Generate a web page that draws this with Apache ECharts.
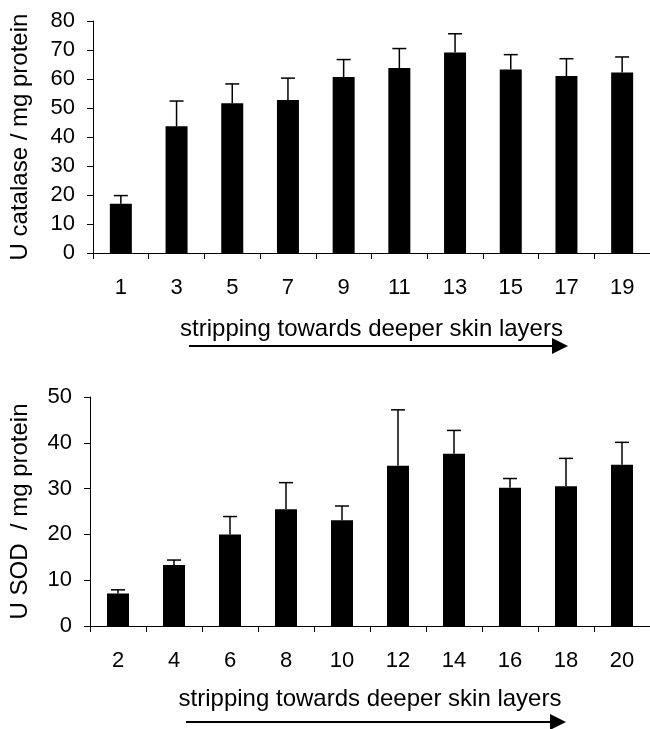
<!DOCTYPE html>
<html>
<head>
<meta charset="utf-8">
<script src="https://cdn.jsdelivr.net/npm/echarts@6/dist/echarts.min.js"></script>
<style>
html,body{margin:0;padding:0;background:#fff;}
#chart{width:650px;height:729px;}
</style>
</head>
<body>
<div id="chart"></div>
<script>
// Top panel: catalase
const catalaseCategories = ['1','3','5','7','9','11','13','15','17','19'];
const catalaseMean = [17.0, 43.7, 51.6, 52.8, 60.7, 63.8, 69.1, 63.3, 61.0, 62.2];
const catalaseSD   = [2.8, 8.7, 6.7, 7.5, 6.0, 6.7, 6.5, 5.1, 6.0, 5.4];
const catalaseTicks = [0, 10, 20, 30, 40, 50, 60, 70, 80];

// Bottom panel: SOD
const sodCategories = ['2','4','6','8','10','12','14','16','18','20'];
const sodMean = [7.1, 13.3, 20.0, 25.5, 23.1, 35.0, 37.6, 30.2, 30.5, 35.2];
const sodSD   = [0.8, 1.1, 3.9, 5.8, 3.1, 12.2, 5.1, 2.0, 6.1, 4.9];
const sodTicks = [0, 10, 20, 30, 40, 50];

const xTitle = 'stripping towards deeper skin layers';
const yTitleTop = 'U catalase / mg protein';
const yTitleBottom = 'U SOD  / mg protein';

const FONT = "'Liberation Sans', Arial, sans-serif";
const chart = echarts.init(document.getElementById('chart'), null, {renderer: 'canvas'});

function errData(means, sds) {
  return means.map((m, i) => [i, m, m + sds[i]]);
}
function errRender(params, api) {
  const x = api.value(0);
  const low = api.coord([x, api.value(1)]);
  const high = api.coord([x, api.value(2)]);
  const cap = 7;
  const style = {stroke: '#000', lineWidth: 1.5, fill: null};
  return {
    type: 'group',
    children: [
      {type: 'line', shape: {x1: low[0], y1: low[1], x2: high[0], y2: high[1]}, style: style},
      {type: 'line', shape: {x1: high[0] - cap, y1: high[1], x2: high[0] + cap, y2: high[1]}, style: style}
    ]
  };
}

function xAxisCfg(gridIndex, cats, gap) {
  return {
    type: 'category', gridIndex: gridIndex, data: cats,
    boundaryGap: true,
    axisLine: {lineStyle: {color: '#000', width: 1}},
    axisTick: {show: true, inside: false, length: 6, alignWithLabel: false, lineStyle: {color: '#000'}},
    axisLabel: {color: '#000', fontSize: 22, fontFamily: FONT, margin: 24},
    name: xTitle, nameLocation: 'middle', nameGap: gap,
    nameTextStyle: {color: '#000', fontSize: 24, fontFamily: FONT}
  };
}
function yAxisCfg(gridIndex, ticks, name, gap) {
  const mx = ticks[ticks.length - 1];
  return {
    type: 'value', gridIndex: gridIndex, min: ticks[0], max: mx, interval: ticks[1] - ticks[0],
    axisLine: {show: true, lineStyle: {color: '#000', width: 1}},
    axisTick: {show: true, inside: false, length: 6, lineStyle: {color: '#000'}},
    axisLabel: {color: '#000', fontSize: 22, fontFamily: FONT, margin: 18},
    splitLine: {show: false},
    name: name, nameLocation: 'middle', nameRotate: 90, nameGap: gap,
    nameTextStyle: {color: '#000', fontSize: 24, fontFamily: FONT}
  };
}

const option = {
  backgroundColor: '#fff',
  animation: false,
  grid: [
    {left: 88, top: 21, width: 562, height: 232},
    {left: 85, top: 397, width: 565, height: 229}
  ],
  xAxis: [xAxisCfg(0, catalaseCategories, 64), xAxisCfg(1, sodCategories, 61)],
  yAxis: [yAxisCfg(0, catalaseTicks, yTitleTop, 61), yAxisCfg(1, sodTicks, yTitleBottom, 58)],
  series: [
    {type: 'bar', xAxisIndex: 0, yAxisIndex: 0, data: catalaseMean, barWidth: 22,
     itemStyle: {color: '#000'}},
    {type: 'custom', xAxisIndex: 0, yAxisIndex: 0, data: errData(catalaseMean, catalaseSD),
     renderItem: errRender, z: 3},
    {type: 'bar', xAxisIndex: 1, yAxisIndex: 1, data: sodMean, barWidth: 22,
     itemStyle: {color: '#000'}},
    {type: 'custom', xAxisIndex: 1, yAxisIndex: 1, data: errData(sodMean, sodSD),
     renderItem: errRender, z: 3}
  ],
  graphic: [
    {type: 'line', shape: {x1: 189, y1: 346, x2: 554, y2: 346}, style: {stroke: '#000', lineWidth: 2}},
    {type: 'polygon', shape: {points: [[552, 338], [568, 346], [552, 354]]}, style: {fill: '#000'}},
    {type: 'line', shape: {x1: 186, y1: 722, x2: 552, y2: 722}, style: {stroke: '#000', lineWidth: 2}},
    {type: 'polygon', shape: {points: [[550, 714], [566, 722], [550, 730]]}, style: {fill: '#000'}}
  ]
};
chart.setOption(option);
</script>
</body>
</html>
